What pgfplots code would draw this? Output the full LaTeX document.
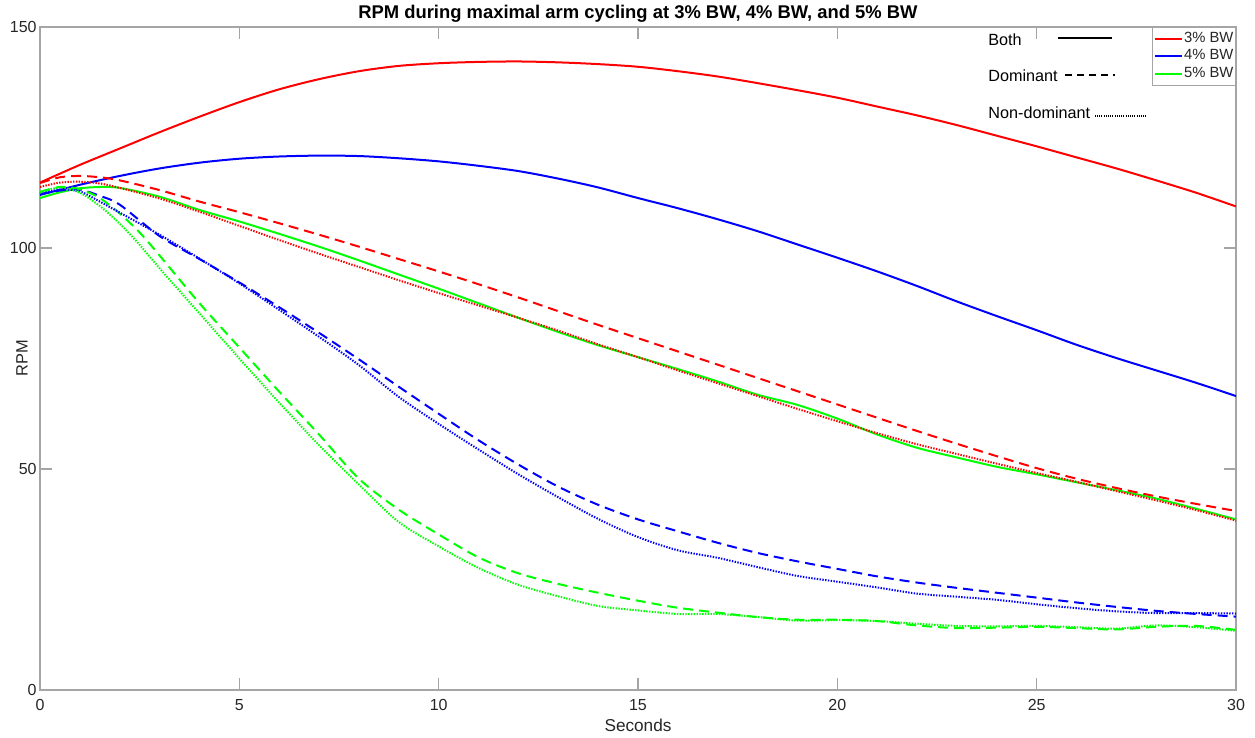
\documentclass[border=0pt]{standalone}
\usepackage{pgfplots}
\pgfplotsset{compat=1.18}
\usepackage{fontspec}
\setmainfont{Liberation Sans}
\definecolor{axgray}{RGB}{165,165,165}
\definecolor{txt}{RGB}{38,38,38}
\definecolor{mred}{RGB}{255,0,0}
\definecolor{mblue}{RGB}{0,0,255}
\definecolor{mgreen}{RGB}{0,255,0}
\begin{document}
\begin{tikzpicture}
\useasboundingbox (-20pt,-24pt) rectangle (607.5pt,345pt);
\begin{axis}[
  at={(0,0)}, anchor=south west,
  scale only axis, width=598pt, height=331.5pt,
  xmin=0, xmax=30, ymin=0, ymax=150,
  clip mode=individual,
  xtick={0,5,...,30}, ytick={0,50,100,150},
  tick align=inside, major tick length=6pt,
  axis line style={axgray, line width=0.6pt},
  tick style={axgray, line width=0.6pt},
  ticklabel style={font=\fontsize{8}{9}\selectfont, text=txt},
  /pgf/number format/assume math mode=true,
  xticklabel style={anchor=center, yshift=-7.5pt},
  yticklabel style={inner sep=1.5pt},
  xlabel={Seconds}, ylabel={RPM},
  xlabel style={font=\fontsize{8.6}{10}\selectfont, text=txt, at={(axis description cs:0.5,-0.0528)}, anchor=center},
  ylabel style={font=\fontsize{8.2}{10}\selectfont, text=txt, at={(axis description cs:-0.0150,0.5)}, anchor=center},
  legend style={at={(1,1)}, anchor=north east, draw=axgray, font=\fontsize{7.4}{8}\selectfont, text=txt,
    inner xsep=0.5pt, inner ysep=0.3pt, row sep=-1.8pt, cells={anchor=west},
    nodes={inner xsep=0.6pt}},
  legend image code/.code={\draw[#1, line width=1pt, solid] (0pt,0pt) -- (13.5pt,0pt);},
  every axis plot/.append style={line width=1pt},
]
% 3% BW, both
\addplot[mred, smooth] coordinates {
(0,114.8)(1,118.8)(2,122.5)(3,126.2)(4,129.7)(5,133)(6,135.9)(7,138.2)(8,140)(9,141.2)(10,141.8)
(11,142.1)(12,142.2)(13,142)(14,141.6)(15,141)(16,140)(17,138.8)(18,137.3)(19,135.7)(20,134)
(21,132)(22,130)(23,127.8)(24,125.4)(25,123)(26,120.5)(27,118)(28,115.3)(29,112.5)(30,109.4)};
\addlegendentry{3\% BW}
% 4% BW, both
\addplot[mblue, smooth] coordinates {
(0,112)(1,114.3)(2,116.3)(3,118)(4,119.3)(5,120.2)(6,120.7)(7,120.9)(8,120.8)(9,120.3)(10,119.6)
(11,118.6)(12,117.4)(13,115.7)(14,113.7)(15,111.3)(16,109)(17,106.5)(18,103.8)(19,100.8)(20,97.8)
(21,94.7)(22,91.4)(23,87.9)(24,84.6)(25,81.4)(26,78.1)(27,75.1)(28,72.3)(29,69.5)(30,66.5)};
\addlegendentry{4\% BW}
% 5% BW, both
\addplot[mgreen, smooth] coordinates {
(0,111.3)(0.5,112.6)(1,113.5)(1.5,113.8)(2,113.6)(3,111.6)(4,108.6)(5,106)(6,103.2)(7,100.3)(8,97.2)
(9,94)(10,90.8)(11,87.5)(12,84.2)(13,81)(14,78)(15,75.3)(16,72.6)(17,69.8)(18,66.8)(19,64.5)(20,61.4)
(21,57.8)(22,54.8)(23,52.6)(24,50.5)(25,48.8)(26,47)(27,45.2)(28,43.3)(29,41)(30,38.6)};
\addlegendentry{5\% BW}
% dominant
\addplot[mred, smooth, dash pattern=on 5pt off 3pt, forget plot] coordinates {
(0,114.7)(0.5,116)(1,116.3)(1.5,116)(2,115.3)(3,113.1)(4,110.5)(5,108.1)(6,105.6)(7,103)(8,100.3)
(9,97.5)(10,94.7)(11,91.8)(12,88.8)(13,85.7)(14,82.6)(15,79.6)(16,76.6)(17,73.6)(18,70.6)(19,67.6)
(20,64.6)(21,61.6)(22,58.6)(23,55.7)(24,52.9)(25,50.2)(26,47.8)(27,45.7)(28,43.8)(29,42.1)(30,40.5)};
\addplot[mblue, smooth, dash pattern=on 5pt off 3pt, forget plot] coordinates {
(0,112.2)(0.5,113)(1,113.2)(1.5,111.8)(2,109.8)(3,102.7)(4,97.5)(5,92.2)(6,86.6)(7,80.8)(8,74.8)
(9,68.6)(10,62.5)(11,56.5)(12,51)(13,46)(14,41.9)(15,38.6)(16,35.9)(17,33.3)(18,31)(19,29.1)
(20,27.4)(21,25.7)(22,24.3)(23,23.1)(24,22)(25,20.9)(26,19.8)(27,18.8)(28,17.9)(29,17.2)(30,16.6)};
\addplot[mgreen, smooth, dash pattern=on 5pt off 3pt, forget plot] coordinates {
(0,112.7)(0.5,113.8)(1,113.3)(1.5,111.3)(2,107.8)(2.5,103.5)(3,98.3)(4,87.5)(5,77.5)(6,67.5)(7,57.8)
(8,47.8)(9,40.8)(10,35.2)(11,30)(12,26.4)(13,24)(14,22)(15,20.2)(16,18.6)(17,17.5)(18,16.5)(19,15.9)
(20,15.9)(21,15.6)(22,14.6)(23,14)(24,14.1)(25,14.3)(26,14)(27,13.7)(28,14.3)(29,14.5)(30,13.6)};
% non-dominant
\addplot[mred, smooth, dash pattern=on 0.7pt off 0.7pt, forget plot] coordinates {
(0,113.8)(0.5,114.8)(1,115)(1.5,114.6)(2,113.6)(3,111.2)(4,108.2)(5,105)(6,101.8)(7,98.7)(8,95.7)
(9,92.7)(10,89.8)(11,87)(12,84.2)(13,81.3)(14,78.2)(15,75.3)(16,72.3)(17,69.4)(18,66.5)(19,63.6)
(20,60.8)(21,58.1)(22,55.6)(23,53.4)(24,51.2)(25,49.1)(26,47.1)(27,45)(28,42.9)(29,40.7)(30,38.3)};
\addplot[mblue, smooth, dash pattern=on 0.7pt off 0.7pt, forget plot] coordinates {
(0,112.4)(0.5,113.2)(1,112.8)(1.5,110.5)(2,108)(3,103)(4,97.6)(5,92)(6,86)(7,79.9)(8,73.5)
(9,66.3)(10,60.2)(11,54.4)(12,48.8)(13,43.6)(14,38.7)(15,34.6)(16,31.6)(17,29.9)(18,27.8)(19,25.8)
(20,24.5)(21,23.2)(22,21.8)(23,21.1)(24,20.4)(25,19.4)(26,18.5)(27,17.8)(28,17.4)(29,17.4)(30,17.3)};
\addplot[mgreen, smooth, dash pattern=on 0.7pt off 0.7pt, forget plot] coordinates {
(0,112.5)(0.5,113.7)(1,112.5)(1.5,109.5)(2,105.5)(2.5,100.7)(3,95.4)(4,85.2)(5,75)(6,65)(7,55.4)
(8,46.5)(9,38)(10,32.5)(11,27.6)(12,23.8)(13,21.2)(14,19)(15,18)(16,17.2)(17,17.2)(18,16.5)(19,15.7)
(20,15.8)(21,15.6)(22,15)(23,14.5)(24,14.4)(25,14.5)(26,14.2)(27,13.9)(28,14.6)(29,14.2)(30,13.4)};
% title
\node[anchor=center, font=\fontsize{9.2}{11}\selectfont\bfseries, inner sep=0pt] at (axis description cs:0.5,1.0195)
  {RPM during maximal arm cycling at 3\% BW, 4\% BW, and 5\% BW};
% line style key
\node[anchor=west, font=\fontsize{8.1}{9}\selectfont, inner sep=0pt] at (axis cs:23.78,147.1) {Both};
\draw[black, line width=0.9pt] (axis cs:25.53,147.5) -- (axis cs:26.89,147.5);
\node[anchor=west, font=\fontsize{8.1}{9}\selectfont, inner sep=0pt] at (axis cs:23.78,138.9) {Dominant};
\draw[black, line width=0.9pt, dash pattern=on 3.5pt off 2.5pt] (axis cs:25.71,139.1) -- (axis cs:26.96,139.1);
\node[anchor=west, font=\fontsize{8.1}{9}\selectfont, inner sep=0pt] at (axis cs:23.78,130.5) {Non-dominant};
\draw[black, line width=0.8pt, dash pattern=on 0.5pt off 0.6pt] (axis cs:26.46,129.9) -- (axis cs:27.74,129.9);
\end{axis}
\end{tikzpicture}
\end{document}
